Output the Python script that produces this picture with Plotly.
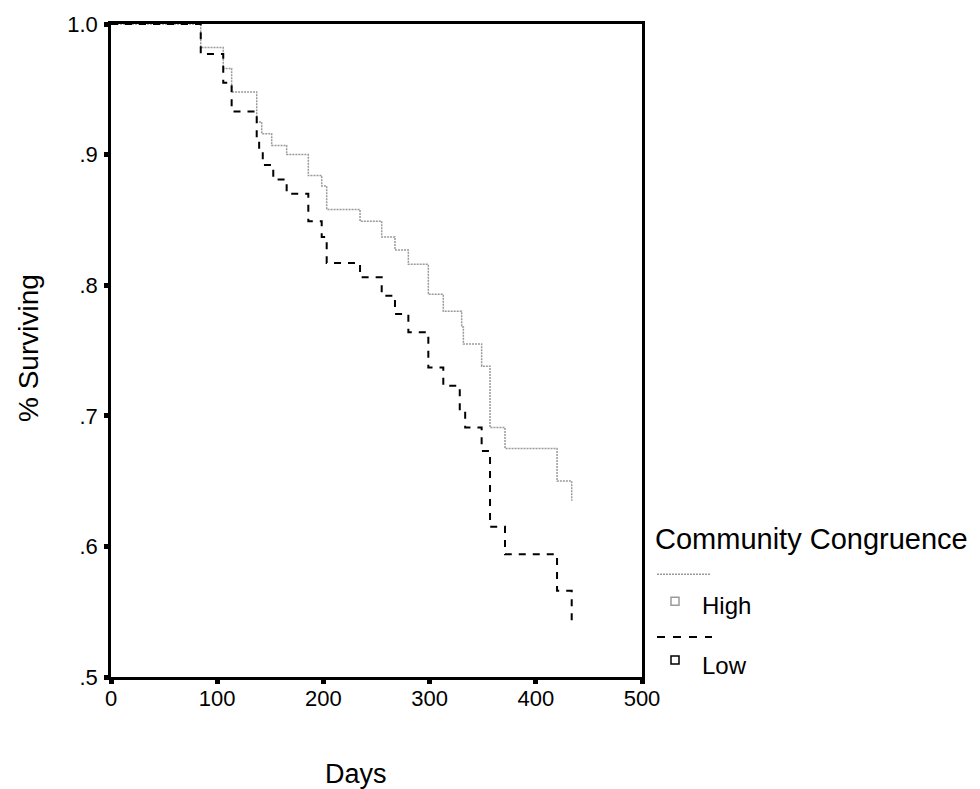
import plotly.graph_objects as go

# ---- data ----
high_days = [0, 84.5, 105.7, 113.6, 137.2, 141.9, 151.3, 165.4, 185.8, 198.4, 203.1,
             234.5, 254.9, 267.4, 280.0, 298.8, 312.9, 330.2, 331.8, 349.0, 356.9,
             371.0, 420.0, 433.8]
high_surv = [1.0, 0.982, 0.966, 0.948, 0.925, 0.916, 0.907, 0.900, 0.884, 0.876, 0.858,
             0.849, 0.837, 0.827, 0.816, 0.793, 0.780, 0.768, 0.755, 0.738, 0.691,
             0.675, 0.650, 0.635]

low_days = [0, 84.5, 105.7, 113.6, 137.2, 139.5, 142.9, 152.8, 165.4, 185.8, 198.4,
            203.1, 234.5, 254.9, 267.4, 280.0, 298.8, 312.9, 328.4, 333.5, 349.0,
            356.9, 371.0, 420.0, 433.8]
low_surv = [1.0, 0.977, 0.955, 0.933, 0.912, 0.902, 0.892, 0.881, 0.870, 0.849, 0.837,
            0.817, 0.806, 0.792, 0.778, 0.764, 0.737, 0.723, 0.704, 0.691, 0.673,
            0.615, 0.594, 0.566, 0.538]

x_ticks = [0, 100, 200, 300, 400, 500]
y_ticks = [0.5, 0.6, 0.7, 0.8, 0.9, 1.0]
y_tick_labels = [".5", ".6", ".7", ".8", ".9", "1.0"]
group_labels = ["High", "Low"]
legend_title = "Community Congruence"
x_title = "Days"
y_title = "% Surviving"

FONT = "Arial, Liberation Sans, sans-serif"
HIGH_COLOR = "#9a9a9a"
LOW_COLOR = "#000000"

W, H = 980, 789
L, R, T, B = 111, 338, 22, 112
PW, PH = W - L - R, H - T - B


def px(x):
    return (x - L) / PW


def py(y):
    return (H - B - y) / PH


fig = go.Figure()
fig.add_trace(go.Scatter(
    x=high_days, y=high_surv, mode="lines", line_shape="hv", name=group_labels[0],
    line=dict(color=HIGH_COLOR, width=1.5, dash="2px,1px"), showlegend=False))
fig.add_trace(go.Scatter(
    x=low_days, y=low_surv, mode="lines", line_shape="hv", name=group_labels[1],
    line=dict(color=LOW_COLOR, width=2, dash="7px,7px"), showlegend=False))

fig.update_xaxes(
    range=[0, 500], tickvals=x_ticks, ticktext=[str(v) for v in x_ticks],
    showgrid=False, zeroline=False, showline=True, linecolor="black", linewidth=2.5,
    mirror=True, ticks="outside", ticklen=4, tickwidth=5, tickcolor="black",
    ticklabelstandoff=-4,
    tickfont=dict(family=FONT, size=22, color="black"))
fig.update_yaxes(
    range=[0.5, 1.0], tickvals=y_ticks, ticktext=y_tick_labels,
    showgrid=False, zeroline=False, showline=True, linecolor="black", linewidth=2.5,
    mirror=True, ticks="outside", ticklen=4, tickwidth=5, tickcolor="black",
    ticklabelstandoff=2,
    tickfont=dict(family=FONT, size=22, color="black"))

annotations = [
    dict(x=px(355.5), y=py(774), xref="paper", yref="paper", text=x_title,
         showarrow=False, xanchor="center", yanchor="middle",
         font=dict(family=FONT, size=27, color="black")),
    dict(x=px(28), y=py(347), xref="paper", yref="paper", text=y_title,
         showarrow=False, xanchor="center", yanchor="middle", textangle=-90,
         font=dict(family=FONT, size=28, color="black")),
    dict(x=px(653), y=py(539), xref="paper", yref="paper", text=legend_title,
         showarrow=False, xanchor="left", yanchor="middle",
         font=dict(family=FONT, size=29, color="black")),
    dict(x=px(700), y=py(605), xref="paper", yref="paper", text=group_labels[0],
         showarrow=False, xanchor="left", yanchor="middle",
         font=dict(family=FONT, size=24, color="black")),
    dict(x=px(700), y=py(665), xref="paper", yref="paper", text=group_labels[1],
         showarrow=False, xanchor="left", yanchor="middle",
         font=dict(family=FONT, size=24, color="black")),
]

shapes = [
    # legend line samples
    dict(type="line", xref="paper", yref="paper", x0=px(657), x1=px(710),
         y0=py(574), y1=py(574), line=dict(color=HIGH_COLOR, width=1.5, dash="2px,1px")),
    dict(type="line", xref="paper", yref="paper", x0=px(657), x1=px(712),
         y0=py(637), y1=py(637), line=dict(color=LOW_COLOR, width=2, dash="8px,8px")),
    # legend markers
    dict(type="rect", xref="paper", yref="paper", x0=px(671), x1=px(679),
         y0=py(597), y1=py(605), line=dict(color=HIGH_COLOR, width=1.5)),
    dict(type="rect", xref="paper", yref="paper", x0=px(671), x1=px(679),
         y0=py(656), y1=py(664), line=dict(color=LOW_COLOR, width=1.5)),
]

fig.update_layout(
    width=W, height=H, margin=dict(l=L, r=R, t=T, b=B, pad=0),
    paper_bgcolor="white", plot_bgcolor="white",
    font=dict(family=FONT, color="black"),
    annotations=annotations, shapes=shapes, showlegend=False)

fig.write_html("out.html", config={"displayModeBar": False},
               post_script="document.body.style.margin='0px';document.body.style.padding='0px';")
